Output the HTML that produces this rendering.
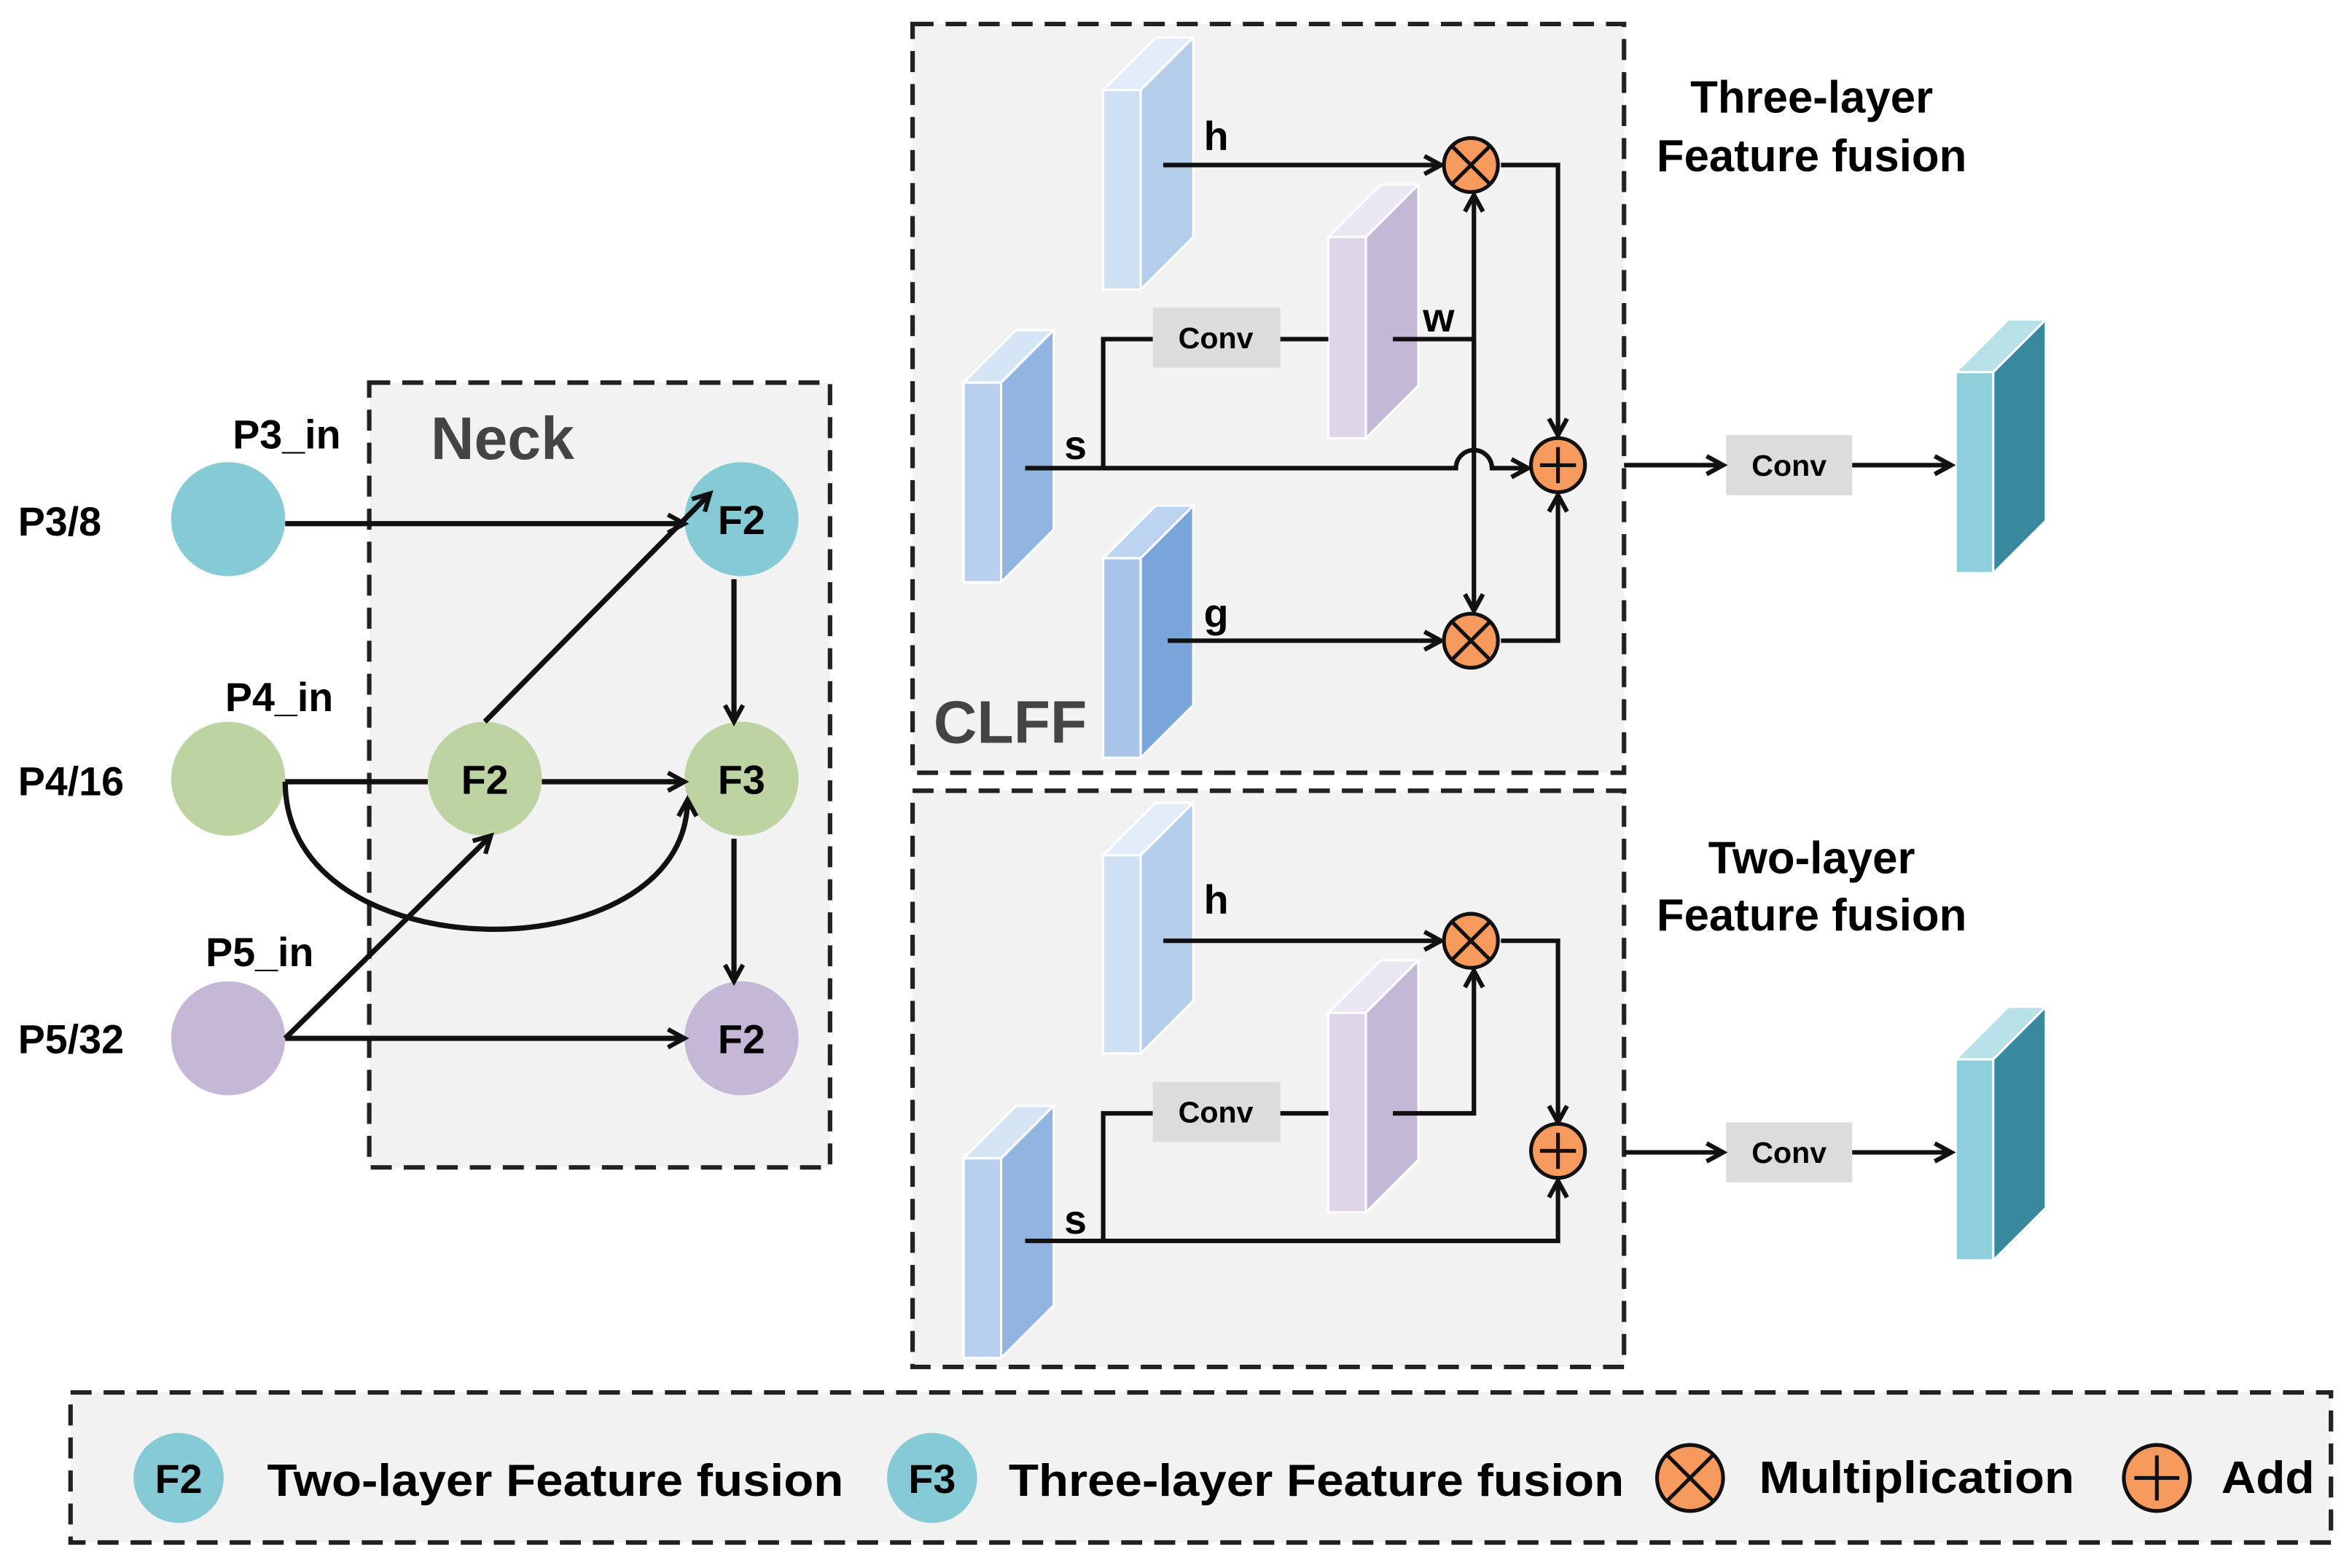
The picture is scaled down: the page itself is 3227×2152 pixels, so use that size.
<!DOCTYPE html>
<html><head><meta charset="utf-8"><style>
html,body{margin:0;padding:0;background:#fff}
svg{display:block}
text{font-family:"Liberation Sans",Arial,sans-serif;font-weight:bold}
</style></head><body>
<svg width="3227" height="2152" viewBox="0 0 1567 1045" xmlns="http://www.w3.org/2000/svg">
<defs>
<marker id="a" viewBox="0 0 14 14" refX="12" refY="7" markerWidth="14" markerHeight="14" orient="auto-start-reverse" markerUnits="userSpaceOnUse" style="overflow:visible">
<path d="M1,1 L12,7 L1,13" fill="none" stroke="#111" stroke-width="3"/>
</marker>
</defs>
<rect width="1567" height="1045" fill="#fff"/>
<rect x="246" y="255" width="307" height="523" fill="#f2f2f2" stroke="#222" stroke-width="3" stroke-dasharray="14,8"/>
<rect x="608" y="16" width="474" height="499" fill="#f2f2f2" stroke="#222" stroke-width="3" stroke-dasharray="14,8"/>
<rect x="608" y="527" width="474" height="384" fill="#f2f2f2" stroke="#222" stroke-width="3" stroke-dasharray="14,8"/>
<rect x="47" y="928" width="1506" height="100" fill="#f2f2f2" stroke="#222" stroke-width="3" stroke-dasharray="14,8"/>

<text x="287" y="306" font-size="40" fill="#444">Neck</text>
<text x="12" y="357" font-size="27">P3/8</text>
<text x="12" y="530" font-size="27">P4/16</text>
<text x="12" y="702" font-size="27">P5/32</text>
<text x="155" y="299" font-size="27">P3_in</text>
<text x="150" y="474" font-size="27">P4_in</text>
<text x="137" y="644" font-size="27">P5_in</text>
<circle cx="152" cy="346" r="38" fill="#86cad6"/>
<circle cx="152" cy="519" r="38" fill="#bdd3a2"/>
<circle cx="152" cy="692" r="38" fill="#c4b8d6"/>
<circle cx="494" cy="346" r="38" fill="#86cad6"/>
<circle cx="323" cy="519" r="38" fill="#bdd3a2"/>
<circle cx="494" cy="519" r="38" fill="#bdd3a2"/>
<circle cx="494" cy="692" r="38" fill="#c4b8d6"/>
<g fill="none" stroke="#111" stroke-width="3.5" marker-end="url(#a)">
<line x1="190" y1="349" x2="456" y2="349"/>
<line x1="361" y1="521" x2="456" y2="521"/>
<line x1="323" y1="481" x2="473" y2="329"/>
<line x1="489" y1="386" x2="489" y2="481"/>
<line x1="489" y1="559" x2="489" y2="654"/>
<line x1="190" y1="692" x2="327" y2="557"/>
<line x1="190" y1="692" x2="456" y2="692"/>
<path d="M190 521 C190 650 458 650 458 533"/>
</g>
<line x1="190" y1="521" x2="285" y2="521" stroke="#111" stroke-width="3.5"/>
<g font-size="27" text-anchor="middle">
<text x="494" y="356">F2</text><text x="323" y="529">F2</text>
<text x="494" y="529">F3</text><text x="494" y="702">F2</text>
</g>

<g stroke="#fff" stroke-width="1.5">
<polygon points="735,60 760,60 795,25 770,25" fill="#e2edf9"/>
<rect x="735" y="60" width="25" height="133" fill="#cfe0f3"/>
<polygon points="760,60 795,25 795,158 760,193" fill="#b4cdea"/>
<polygon points="642,255 667,255 702,220 677,220" fill="#d6e5f6"/>
<rect x="642" y="255" width="25" height="133" fill="#b8d0ee"/>
<polygon points="667,255 702,220 702,353 667,388" fill="#92b4e0"/>
<polygon points="735,372 760,372 795,337 770,337" fill="#bcd4ef"/>
<rect x="735" y="372" width="25" height="133" fill="#a9c6ea"/>
<polygon points="760,372 795,337 795,470 760,505" fill="#7aa5da"/>
<polygon points="885,158 910,158 945,123 920,123" fill="#ebe7f2"/>
<rect x="885" y="158" width="25" height="134" fill="#dcd6e8"/>
<polygon points="910,158 945,123 945,257 910,292" fill="#c3b8d6"/>
<polygon points="1303,248 1328,248 1363,213 1338,213" fill="#b7e0e8"/>
<rect x="1303" y="248" width="25" height="134" fill="#8fcfdb"/>
<polygon points="1328,248 1363,213 1363,347 1328,382" fill="#378a9e"/>
</g>
<rect x="768" y="205" width="85" height="40" fill="#dcdcdc"/>
<text x="810" y="232" font-size="20" text-anchor="middle">Conv</text>
<rect x="1150" y="290" width="84" height="40" fill="#dcdcdc"/>
<text x="1192" y="317" font-size="20" text-anchor="middle">Conv</text>
<g fill="none" stroke="#111" stroke-width="3">
<line x1="775" y1="110" x2="960" y2="110" marker-end="url(#a)"/>
<path d="M683 312 H970 A12 12 0 0 1 994 312 H1018" marker-end="url(#a)"/>
<path d="M735 312 V226 H768"/>
<line x1="853" y1="226" x2="885" y2="226"/>
<line x1="928" y1="226" x2="982" y2="226"/>
<line x1="982" y1="300" x2="982" y2="130" marker-end="url(#a)"/>
<line x1="982" y1="226" x2="982" y2="407" marker-end="url(#a)"/>
<line x1="778" y1="427" x2="960" y2="427" marker-end="url(#a)"/>
<path d="M1000 110 H1038 V290" marker-end="url(#a)"/>
<path d="M1000 427 H1038 V330" marker-end="url(#a)"/>
<line x1="1082" y1="310" x2="1148" y2="310" marker-end="url(#a)"/>
<line x1="1234" y1="310" x2="1300" y2="310" marker-end="url(#a)"/>
</g>
<g stroke="#111" stroke-width="2.5" fill="#f79a5e">
<circle cx="980" cy="110" r="18"/><circle cx="980" cy="427" r="18"/><circle cx="1038" cy="310" r="18"/>
</g>
<g stroke="#111" stroke-width="2.5">
<path d="M967 97 L993 123 M993 97 L967 123"/><path d="M967 414 L993 440 M993 414 L967 440"/>
<path d="M1026 310 H1050 M1038 298 V322"/>
</g>
<g font-size="27">
<text x="802" y="100">h</text><text x="948" y="221">w</text><text x="709" y="306">s</text><text x="802" y="418">g</text>
</g>
<text x="622" y="495" font-size="40" fill="#444">CLFF</text>
<text x="1207" y="75" font-size="30" text-anchor="middle">Three-layer</text>
<text x="1207" y="114" font-size="30" text-anchor="middle">Feature fusion</text>

<g stroke="#fff" stroke-width="1.5">
<polygon points="735,570 760,570 795,535 770,535" fill="#e2edf9"/>
<rect x="735" y="570" width="25" height="132" fill="#cfe0f3"/>
<polygon points="760,570 795,535 795,667 760,702" fill="#b4cdea"/>
<polygon points="642,772 667,772 702,737 677,737" fill="#d6e5f6"/>
<rect x="642" y="772" width="25" height="133" fill="#b8d0ee"/>
<polygon points="667,772 702,737 702,870 667,905" fill="#92b4e0"/>
<polygon points="885,675 910,675 945,640 920,640" fill="#ebe7f2"/>
<rect x="885" y="675" width="25" height="133" fill="#dcd6e8"/>
<polygon points="910,675 945,640 945,773 910,808" fill="#c3b8d6"/>
<polygon points="1303,706 1328,706 1363,671 1338,671" fill="#b7e0e8"/>
<rect x="1303" y="706" width="25" height="134" fill="#8fcfdb"/>
<polygon points="1328,706 1363,671 1363,805 1328,840" fill="#378a9e"/>
</g>
<rect x="768" y="721" width="85" height="40" fill="#dcdcdc"/>
<text x="810" y="748" font-size="20" text-anchor="middle">Conv</text>
<rect x="1150" y="748" width="84" height="40" fill="#dcdcdc"/>
<text x="1192" y="775" font-size="20" text-anchor="middle">Conv</text>
<g fill="none" stroke="#111" stroke-width="3">
<line x1="775" y1="627" x2="960" y2="627" marker-end="url(#a)"/>
<path d="M928 742 H982 V647" marker-end="url(#a)"/>
<path d="M683 827 H1038 V787" marker-end="url(#a)"/>
<path d="M735 827 V742 H768"/>
<line x1="853" y1="742" x2="885" y2="742"/>
<path d="M1000 627 H1038 V748" marker-end="url(#a)"/>
<line x1="1082" y1="768" x2="1148" y2="768" marker-end="url(#a)"/>
<line x1="1234" y1="768" x2="1300" y2="768" marker-end="url(#a)"/>
</g>
<g stroke="#111" stroke-width="2.5" fill="#f79a5e">
<circle cx="980" cy="627" r="18"/><circle cx="1038" cy="767" r="18"/>
</g>
<g stroke="#111" stroke-width="2.5">
<path d="M967 614 L993 640 M993 614 L967 640"/><path d="M1026 767 H1050 M1038 755 V779"/>
</g>
<g font-size="27"><text x="802" y="609">h</text><text x="709" y="822">s</text></g>
<text x="1207" y="582" font-size="30" text-anchor="middle">Two-layer</text>
<text x="1207" y="620" font-size="30" text-anchor="middle">Feature fusion</text>

<circle cx="119" cy="985" r="30" fill="#86cad6"/>
<text x="119" y="995" font-size="27" text-anchor="middle">F2</text>
<text x="178" y="997" font-size="30" textLength="384" lengthAdjust="spacingAndGlyphs">Two-layer Feature fusion</text>
<circle cx="621" cy="985" r="30" fill="#86cad6"/>
<text x="621" y="995" font-size="27" text-anchor="middle">F3</text>
<text x="672" y="997" font-size="30" textLength="410" lengthAdjust="spacingAndGlyphs">Three-layer Feature fusion</text>
<circle cx="1126" cy="985" r="22" fill="#f79a5e" stroke="#111" stroke-width="2.5"/>
<path d="M1110 969 L1142 1001 M1142 969 L1110 1001" stroke="#111" stroke-width="2.5"/>
<text x="1172" y="995" font-size="30" textLength="210" lengthAdjust="spacingAndGlyphs">Multiplication</text>
<circle cx="1437" cy="985" r="22" fill="#f79a5e" stroke="#111" stroke-width="2.5"/>
<path d="M1422 985 H1452 M1437 970 V1000" stroke="#111" stroke-width="2.5"/>
<text x="1480" y="995" font-size="30" textLength="62" lengthAdjust="spacingAndGlyphs">Add</text>
</svg>
</body></html>
